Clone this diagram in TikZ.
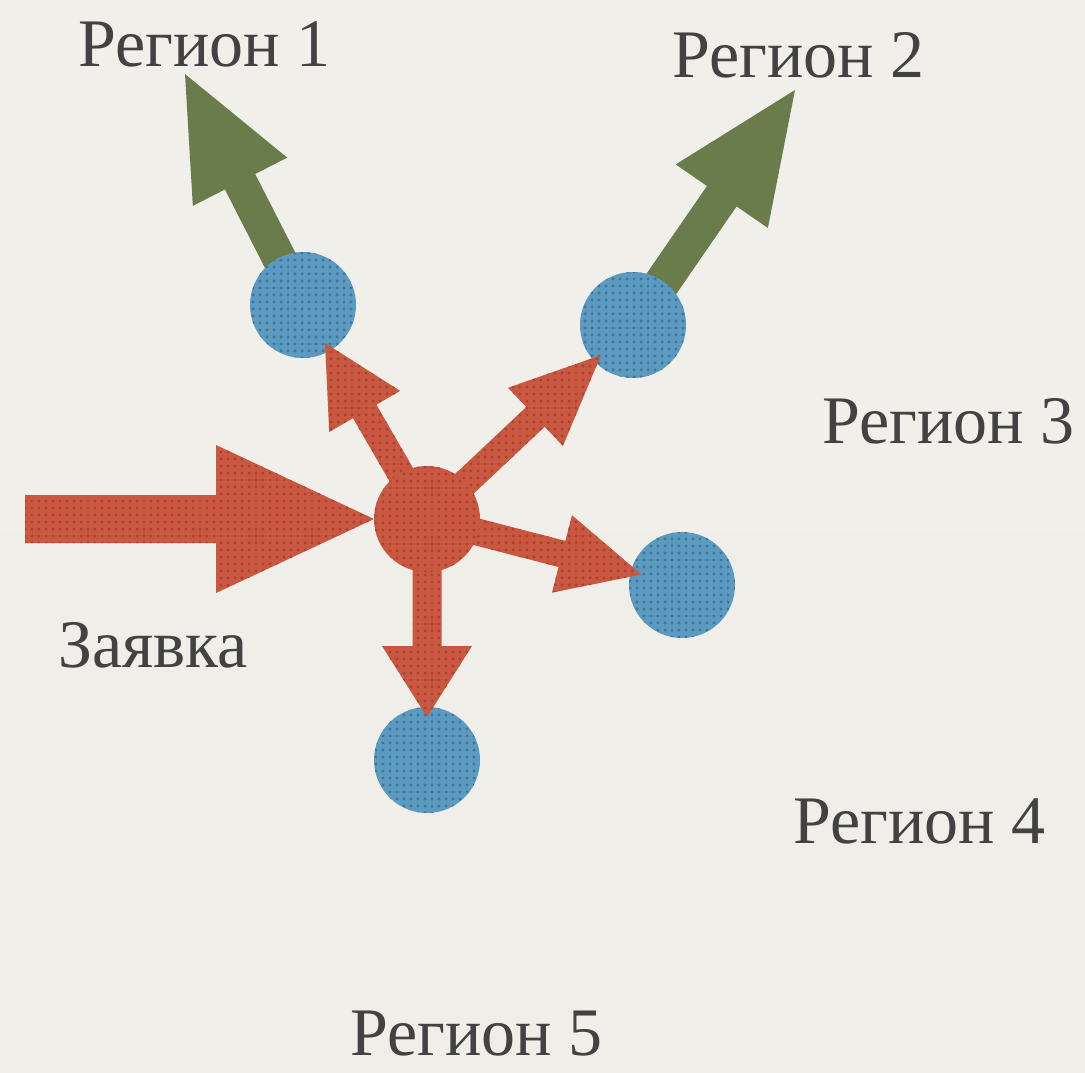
\documentclass[tikz,border=0pt]{standalone}
\usepackage{fontspec}
\setmainfont{Liberation Serif}
\usetikzlibrary{calc,patterns.meta}

\definecolor{papertop}{HTML}{F1EFEA}
\definecolor{papermid}{HTML}{E6E4DF}
\definecolor{paperbot}{HTML}{F0EEE9}
\definecolor{redbase}{HTML}{CA5841}
\definecolor{reddot}{HTML}{A94230}
\definecolor{bluebase}{HTML}{5C9AC0}
\definecolor{bluedot}{HTML}{3C769E}
\definecolor{leaf}{HTML}{6B7C4C}
\definecolor{ink}{HTML}{424242}

\pgfdeclarelayer{paper}
\pgfdeclarelayer{under}
\pgfdeclarelayer{over}
\pgfsetlayers{paper,under,main,over}

% block arrow: #1 style, #2 tail, #3 tip, #4 half shaft width,
% #5 half head width, #6 head length
\newcommand\blockarrow[6]{%
  \coordinate (headbase) at ($(#3)!#6!(#2)$);
  \fill[#1] ($(#2)!#4!90:(#3)$) -- ($(headbase)!#4!90:(#3)$)
    -- ($(headbase)!#5!90:(#3)$) -- (#3)
    -- ($(headbase)!#5!-90:(#3)$) -- ($(headbase)!#4!-90:(#3)$)
    -- ($(#2)!#4!-90:(#3)$) -- cycle;}

\tikzset{
  redtex/.style={pattern={Dots[radius=1.8pt,distance=6.5pt]}, pattern color=reddot},
  bluetex/.style={pattern={Dots[radius=1.8pt,distance=6.5pt]}, pattern color=bluedot},
  redarrow/.style={fill=redbase, postaction={redtex}},
  greenarrow/.style={fill=leaf},
  dot/.style={circle, minimum size=106pt, inner sep=0pt, outer sep=0pt},
  regiondot/.style={dot, fill=bluebase, postaction={bluetex}},
  hubdot/.style={dot, fill=redbase, postaction={redtex}},
  label/.style={anchor=base west, inner sep=0pt, text=ink,
    font=\fontsize{68}{80}\selectfont},
}

\begin{document}
\begin{tikzpicture}[x=1pt,y=-1pt]
  \useasboundingbox (0,0) rectangle (1085,1072);

  % paper
  \begin{pgfonlayer}{paper}
    \shade[top color=papertop, middle color=papermid, bottom color=paperbot]
      (0,0) rectangle (1085,1072);
  \end{pgfonlayer}

  % central request point
  \begin{pgfonlayer}{over}
    \node[hubdot] (hub) at (427,519) {};
  \end{pgfonlayer}

  % regional points
  \node[regiondot] (c1) at (303,305) {};
  \node[regiondot] (c2) at (633,325) {};
  \node[regiondot] (c3) at (682,585) {};
  \node[regiondot] (c4) at (427,760) {};

  % free ends
  \coordinate (src) at (25,519);
  \coordinate (g1) at (185,74);
  \coordinate (g2) at (795,90);
  \coordinate (t1) at ($(c1)!44pt!(hub)$);
  \coordinate (t2) at ($(c2)!44pt!(hub)$);
  \coordinate (t3) at ($(c3)!42pt!(hub)$);
  \coordinate (t4) at ($(c4)!43pt!(hub)$);

  % outgoing green arrows
  \begin{pgfonlayer}{under}
    \blockarrow{greenarrow}{c1}{g1}{17pt}{53pt}{121pt}
    \blockarrow{greenarrow}{c2}{g2}{18pt}{56pt}{129pt}
  \end{pgfonlayer}

  % incoming request
  \blockarrow{redarrow}{src}{hub.west}{24pt}{74pt}{158pt}

  % distribution arrows
  \blockarrow{redarrow}{hub}{t1}{13.5pt}{41pt}{79pt}
  \blockarrow{redarrow}{hub}{t2}{13.5pt}{40pt}{90pt}
  \blockarrow{redarrow}{hub}{t3}{13.5pt}{40pt}{82pt}
  \blockarrow{redarrow}{hub}{t4}{14.5pt}{45pt}{71pt}

  % labels
  \node[label] (r1) at (78,66) {Регион 1};
  \node[label] (r2) at (672,77) {Регион 2};
  \node[label] (r3) at (822,443) {Регион 3};
  \node[label] (req) at (58,667) {Заявка};
  \node[label] (r4) at (793,843) {Регион 4};
  \node[label] (r5) at (350,1055) {Регион 5};
\end{tikzpicture}
\end{document}
